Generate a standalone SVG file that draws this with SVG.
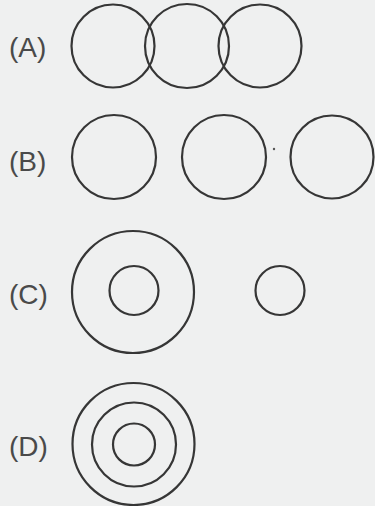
<svg xmlns="http://www.w3.org/2000/svg" width="375" height="506" viewBox="0 0 375 506">
<style>
.c{fill:none;stroke:#363636;stroke-width:2.2}
.t{font-family:"Liberation Sans",Arial,sans-serif;font-size:28px;fill:#4a4a4a}
</style>
<rect width="375" height="506" fill="#eff0f0"/>
<g id="A">
<text class="t" x="9" y="57">(A)</text>
<circle class="c" cx="113" cy="46" r="41.5"/>
<circle class="c" cx="187" cy="46" r="42"/>
<circle class="c" cx="260" cy="46" r="41.5"/>
</g>
<g id="B">
<text class="t" x="9" y="171">(B)</text>
<circle class="c" cx="114" cy="157" r="42"/>
<circle class="c" cx="224" cy="157" r="42"/>
<circle class="c" cx="332" cy="157" r="41.5"/>
<circle cx="274" cy="149" r="1.2" fill="#555"/>
</g>
<g id="C">
<text class="t" x="9" y="304">(C)</text>
<circle class="c" cx="133" cy="292" r="61"/>
<circle class="c" cx="134" cy="290.5" r="24.5"/>
<circle class="c" cx="280" cy="290.5" r="24.5"/>
</g>
<g id="D">
<text class="t" x="9" y="456">(D)</text>
<circle class="c" cx="133.5" cy="444" r="61"/>
<circle class="c" cx="134" cy="444.5" r="42"/>
<circle class="c" cx="134" cy="444.5" r="21"/>
</g>
</svg>
